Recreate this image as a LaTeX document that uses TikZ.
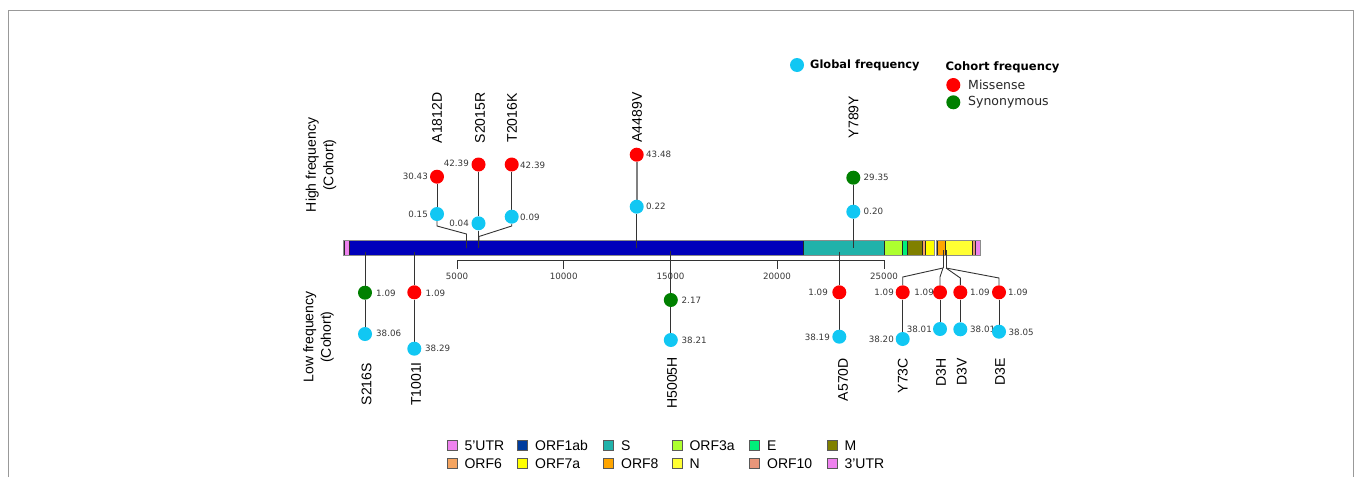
\documentclass[tikz,border=0pt]{standalone}
\usepackage{fontspec}
\setmainfont{Liberation Sans}
\newfontfamily\dejavu{DejaVu Sans}
\pgfdeclarelayer{bg}
\pgfsetlayers{bg,main}
\definecolor{gblue}{RGB}{17,199,243}
\definecolor{mred}{RGB}{255,0,0}
\definecolor{sgreen}{RGB}{0,128,0}
\definecolor{numc}{RGB}{55,55,55}
\definecolor{cutr}{HTML}{EE82EE}
\definecolor{corf1}{HTML}{0000BB}
\definecolor{corf1l}{HTML}{003C9D}
\definecolor{cS}{HTML}{20B2AA}
\definecolor{c3a}{HTML}{ADFF2F}
\definecolor{cE}{HTML}{00F07A}
\definecolor{cM}{HTML}{808000}
\definecolor{c6}{HTML}{F4A460}
\definecolor{c7a}{HTML}{FFFF00}
\definecolor{c8}{HTML}{FFA500}
\definecolor{cN}{HTML}{FFFF33}
\definecolor{c10}{HTML}{E9967A}
\tikzset{
  dotnode/.style={circle, inner sep=0pt, minimum size=14pt},
  glob/.style={dotnode, fill=gblue},
  mis/.style={dotnode, fill=mred},
  syn/.style={dotnode, fill=sgreen},
  num/.style={font=\dejavu\fontsize{8.7}{10}\selectfont, text=numc, inner sep=0pt},
  mut/.style={font=\fontsize{14}{16}\selectfont, rotate=90, inner sep=0pt},
  stem/.style={draw=black!80, line width=0.9pt},
  seg/.style={draw=black!85, line width=0.7pt},
  legsq/.style={draw=black!65, line width=0.8pt, minimum size=10pt, inner sep=0pt},
  legtx/.style={font=\fontsize{14}{16}\selectfont, anchor=base west, inner sep=0pt},
  axlab/.style={font=\fontsize{14}{17.5}\selectfont, rotate=90, align=center, inner sep=0pt},
}
\begin{document}
\begin{tikzpicture}[x=1pt,y=-1pt]
\useasboundingbox (0,0) rectangle (1356,477);
\draw[black!40, line width=1pt] (8,477) -- (8,10) -- (1353,10) -- (1353,477);

% ---------- top legend
\node[glob] (lg) at (797,65) {};
\node[anchor=west, inner sep=0pt, font=\dejavu\bfseries\fontsize{11.4}{13}\selectfont] (lgt) at (810,65) {Global frequency};
\node[anchor=west, inner sep=0pt, font=\dejavu\bfseries\fontsize{11.6}{13}\selectfont] (lct) at (945.5,67) {Cohort frequency};
\node[mis] (lm) at (953.3,85) {};
\node[anchor=west, inner sep=0pt, font=\dejavu\fontsize{12.5}{14}\selectfont, text=black!85] (lmt) at (968,85) {Missense};
\node[syn] (ls) at (953.3,102.3) {};
\node[anchor=west, inner sep=0pt, font=\dejavu\fontsize{12.5}{14}\selectfont, text=black!85] (lst) at (968,102.3) {Synonymous};

% ---------- axis side labels
\node[axlab] (hf) at (321,165) {High frequency\\(Cohort)};
\node[axlab] (lf) at (318.5,337) {Low frequency\\(Cohort)};

% ---------- top lollipops
\node[mis] (r1) at (437,176.7) {};
\node[glob] (b1) at (437,214) {};
\node[num, anchor=east] at (428,176.7) {30.43};
\node[num, anchor=east] at (428,214) {0.15};
\node[mut] (t1) at (437,118) {A1812D};
\coordinate (j1) at (437,226);
\coordinate (k1) at (466.5,234);
\coordinate (e1) at (466.5,248);

\node[mis] (r2) at (478.5,164.5) {};
\node[glob] (b2) at (478.5,223.3) {};
\node[num, anchor=east] at (469,163.5) {42.39};
\node[num, anchor=east] at (469,223) {0.04};
\node[mut] (t2) at (480,118) {S2015R};
\coordinate (e2) at (478.5,248);

\node[mis] (r3) at (511.7,164.5) {};
\node[glob] (b3) at (511.7,216.7) {};
\node[num, anchor=west] at (520,165.5) {42.39};
\node[num, anchor=west] at (520,217) {0.09};
\node[mut] (t3) at (512,118) {T2016K};
\coordinate (j3) at (511.7,226);
\coordinate (k3) at (479,236.5);

\node[mis] (r4) at (636.7,154.7) {};
\node[glob] (b4) at (636.7,206.7) {};
\node[num, anchor=west] at (646,154.7) {43.48};
\node[num, anchor=west] at (646,206.7) {0.22};
\node[mut] (t4) at (637,117.5) {A4489V};
\coordinate (e4) at (636.7,248);

\node[syn] (r5) at (853.3,177.7) {};
\node[glob] (b5) at (853.3,211.7) {};
\node[num, anchor=west] at (863.5,177.7) {29.35};
\node[num, anchor=west] at (863.5,211.7) {0.20};
\node[mut] (t5) at (853.5,117) {Y789Y};
\coordinate (e5) at (853.3,248);

% ---------- bottom lollipops
\coordinate (s6) at (365,252);
\node[syn] (r6) at (365,292.7) {};
\node[glob] (b6) at (365,334) {};
\node[num, anchor=west] at (376,293.3) {1.09};
\node[num, anchor=west] at (376,333.3) {38.06};
\node[mut, anchor=east] (t6) at (366.5,363) {S216S};

\coordinate (s7) at (414.3,252);
\node[mis] (r7) at (414.3,292.3) {};
\node[glob] (b7) at (414.3,348.7) {};
\node[num, anchor=west] at (425.5,293) {1.09};
\node[num, anchor=west] at (425,348.3) {38.29};
\node[mut, anchor=east] (t7) at (416,362) {T1001I};

\coordinate (s8) at (670.8,251);
\node[syn] (r8) at (670.8,300) {};
\node[glob] (b8) at (670.8,340) {};
\node[num, anchor=west] at (681.5,300.3) {2.17};
\node[num, anchor=west] at (681.5,340) {38.21};
\node[mut, anchor=east] (t8) at (672,357) {H5005H};

\coordinate (s9) at (839.3,251.5);
\node[mis] (r9) at (839.3,292.3) {};
\node[glob] (b9) at (839.3,336.7) {};
\node[num, anchor=east] at (828,292.3) {1.09};
\node[num, anchor=east] at (830,337) {38.19};
\node[mut, anchor=east] (t9) at (843,358) {A570D};

\coordinate (sa) at (943,250);
\coordinate (ja) at (943,268);
\coordinate (sb) at (946,250);
\coordinate (jb) at (946,268);

\node[mis] (r10) at (902.7,292.3) {};
\node[glob] (b10) at (902.7,339) {};
\node[num, anchor=east] at (894,292.3) {1.09};
\node[num, anchor=east] at (894,339) {38.20};
\node[mut, anchor=east] (t10) at (902.7,358) {Y73C};
\coordinate (k10) at (902.7,277);

\node[mis] (r11) at (940,292.3) {};
\node[glob] (b11) at (940,329) {};
\node[num, anchor=east] at (934,292.3) {1.09};
\node[num, anchor=east] at (932,329.3) {38.01};
\node[mut, anchor=east] (t11) at (941,358) {D3H};
\coordinate (k11) at (940,277);

\node[mis] (r12) at (960.3,292.3) {};
\node[glob] (b12) at (960.3,329.3) {};
\node[num, anchor=west] at (970,292.3) {1.09};
\node[num, anchor=west] at (970,329.3) {38.01};
\node[mut, anchor=east] (t12) at (961.7,358) {D3V};
\coordinate (k12) at (960.3,278);

\node[mis] (r13) at (999,292.3) {};
\node[glob] (b13) at (999,331.7) {};
\node[num, anchor=west] at (1008,292.3) {1.09};
\node[num, anchor=west] at (1008.5,332.3) {38.05};
\node[mut, anchor=east] (t13) at (1000,358) {D3E};
\coordinate (k13) at (999,278);

% ---------- genome axis labels
\node[num] (x1) at (457,276) {5000};
\node[num] (x2) at (563.7,276) {10000};
\node[num] (x3) at (670.5,276) {15000};
\node[num] (x4) at (777,276) {20000};
\node[num] (x5) at (884,276) {25000};

% ---------- bottom legend
\foreach \c/\t/\x/\y in {cutr/5'UTR/446.7/445.7, corf1l/ORF1ab/517.3/445.7, cS/S/603.3/445.7, c3a/ORF3a/671.7/445.7, cE/E/749.3/445.7, cM/M/826.7/445.7,
  c6/ORF6/446.7/463.3, c7a/ORF7a/517.3/463.3, c8/ORF8/603.3/463.3, cN/N/671.7/463.3, c10/ORF10/749.3/463.3, cutr/3'UTR/826.7/463.3}{
  \node[legsq, fill=\c, anchor=west] at (\x,\y) {};
  \node[legtx] at (\x+17.6,\y+5) {\t};
}

\begin{pgfonlayer}{bg}
  % genome bar
  \foreach \a/\b/\c in {344/349/cutr, 349/803/corf1, 803/884/cS, 884/902/c3a, 902/907/cE, 907/922/cM, 922/925/c6, 925/934/c7a,
    937/945/c8, 945/972/cN, 972/975/c10, 975/980/cutr}{
    \fill[\c] (\a,241) rectangle (\b,255);
    \draw[seg] (\a,241) -- (\a,255) (\b,241) -- (\b,255);
  }
  \draw[black!45, line width=1.1pt] (343.5,240.5) rectangle (934.5,255.5);
  \draw[black!45, line width=1.1pt] (936.5,240.5) rectangle (980.5,255.5);
  % position axis
  \draw[black!80, line width=0.9pt] (457,269) -- (457,260.5) -- (884,260.5) -- (884,269);
  \foreach \xx in {563.7,670.5,777}{\draw[black!80, line width=0.9pt] (\xx,260.5) -- (\xx,269);}
  % top stems
  \draw[stem] (r1) -- (b1);
  \draw[stem] (b1) -- (j1) -- (k1) -- (e1);
  \draw[stem] (r2) -- (b2);
  \draw[stem] (b2) -- (e2);
  \draw[stem] (r3) -- (b3);
  \draw[stem] (b3) -- (j3) -- (k3) -- (e2);
  \draw[draw=black!50, line width=1.6pt] (r4) -- (b4);
  \draw[stem] (b4) -- (e4);
  \draw[stem] (r5) -- (b5);
  \draw[stem] (b5) -- (e5);
  % bottom stems
  \draw[stem] (s6) -- (r6); \draw[stem] (r6) -- (b6);
  \draw[stem] (s7) -- (r7); \draw[stem] (r7) -- (b7);
  \draw[stem] (s8) -- (r8); \draw[stem] (r8) -- (b8);
  \draw[stem] (s9) -- (r9); \draw[stem] (r9) -- (b9);
  \draw[stem] (sa) -- (ja);
  \draw[stem] (sb) -- (jb);
  \draw[stem] (ja) -- (k10) -- (r10); \draw[stem] (r10) -- (b10);
  \draw[stem] (ja) -- (k11) -- (r11); \draw[stem] (r11) -- (b11);
  \draw[stem] (jb) -- (k12) -- (r12); \draw[stem] (r12) -- (b12);
  \draw[stem] (jb) -- (k13) -- (r13); \draw[stem] (r13) -- (b13);
\end{pgfonlayer}
\end{tikzpicture}
\end{document}
